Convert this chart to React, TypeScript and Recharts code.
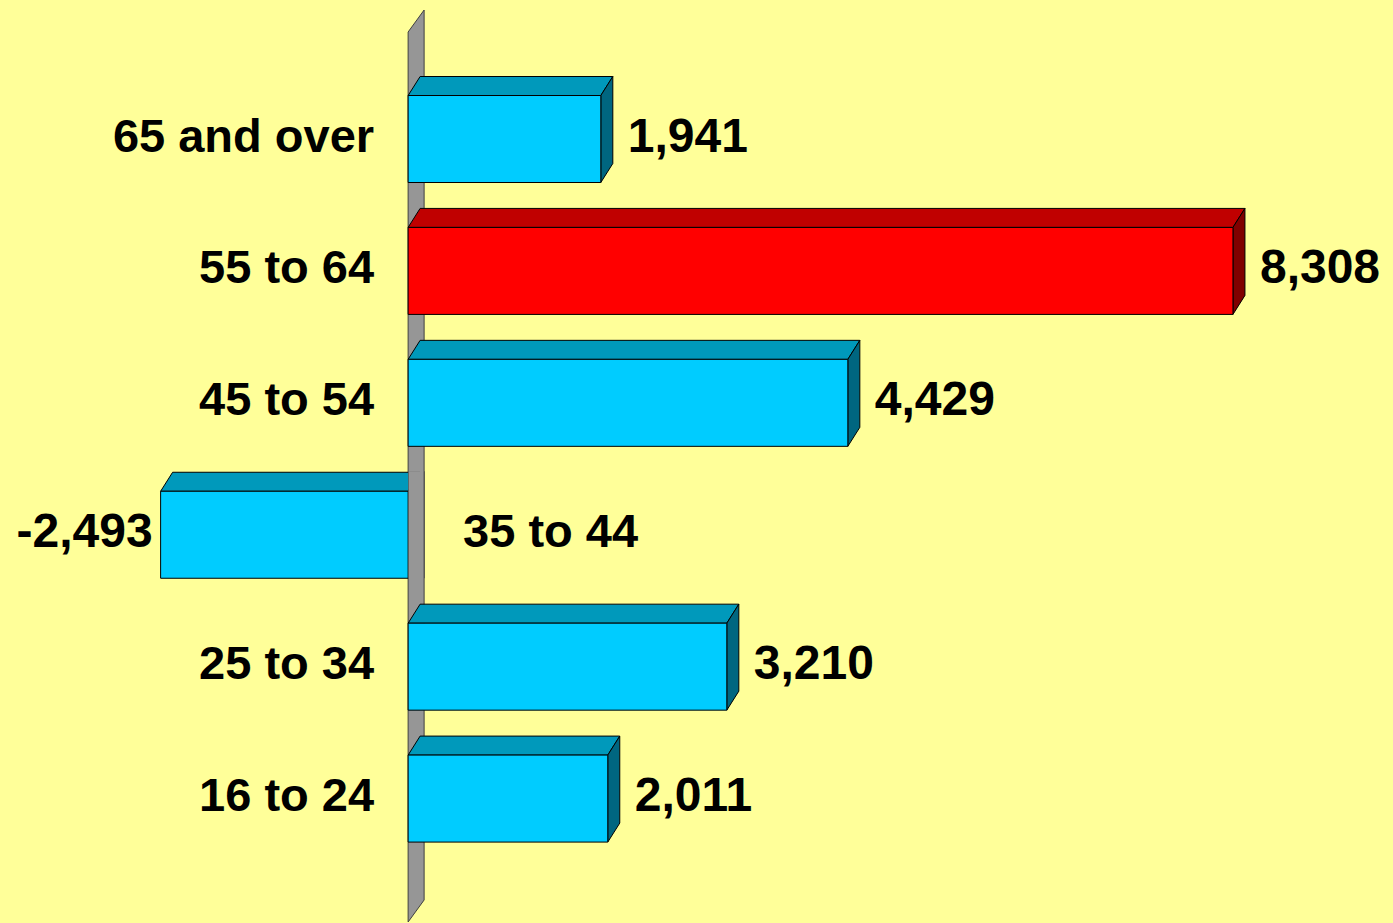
import { Bar, BarChart, LabelList, XAxis, YAxis } from "recharts";

const groups = ["65 and over", "55 to 64", "45 to 54", "35 to 44", "25 to 34", "16 to 24"];
const changes = [1941, 8308, 4429, -2493, 3210, 2011];
const highlightGroup = "55 to 64";

const data = groups.map((group, i) => ({ group, value: changes[i] }));

const BG = "#FFFF99";
const FONT = '"Liberation Sans", Arial, sans-serif';
// 3d depth of the bars and the axis wall
const DX = 12;
const DY = 19;
const WALL_DX = 16;
const WALL_DY = 22;
const WALL_TOP = 10;
const WALL_BOTTOM = 922;

const palette = {
  normal: { front: "#00CCFF", top: "#0099BB", side: "#006680" },
  highlight: { front: "#FF0000", top: "#C00000", side: "#800000" },
};

function wallPoints(zero: number) {
  return [
    [zero, WALL_TOP + WALL_DY],
    [zero + WALL_DX, WALL_TOP],
    [zero + WALL_DX, WALL_BOTTOM - WALL_DY],
    [zero, WALL_BOTTOM],
  ]
    .map((p) => p.join(","))
    .join(" ");
}

function Bar3D(props: any) {
  const { x, y, width, height, index, value, payload } = props;
  const left = Math.min(x, x + width);
  const right = Math.max(x, x + width);
  const negative = value < 0;
  const zero = negative ? right : left;
  const c = payload.group === highlightGroup ? palette.highlight : palette.normal;
  const bottom = y + height;
  const mid = y + height / 2;

  const front = `${left},${y} ${right},${y} ${right},${bottom} ${left},${bottom}`;
  const top = `${left},${y} ${left + DX},${y - DY} ${right + DX},${y - DY} ${right},${y}`;
  const side = `${right},${y} ${right + DX},${y - DY} ${right + DX},${bottom - DY} ${right},${bottom}`;
  const clipId = `wall-clip-${index}`;

  return (
    <g>
      {index === 0 ? (
        <polygon points={wallPoints(zero)} fill="#969696" stroke="#404040" strokeWidth={1} />
      ) : null}
      <polygon points={top} fill={c.top} stroke="#000" strokeWidth={1} strokeLinejoin="round" />
      {negative ? null : (
        <polygon points={side} fill={c.side} stroke="#000" strokeWidth={1} strokeLinejoin="round" />
      )}
      <polygon points={front} fill={c.front} stroke="#000" strokeWidth={1} />
      {negative ? (
        <>
          <defs>
            <clipPath id={clipId}>
              <rect x={zero} y={y - DY - 1} width={WALL_DX + 2} height={height + DY + 1} />
            </clipPath>
          </defs>
          <polygon
            points={wallPoints(zero)}
            fill="#969696"
            stroke="#404040"
            strokeWidth={1}
            clipPath={`url(#${clipId})`}
          />
        </>
      ) : null}
      <text
        x={negative ? zero + 55 : zero - 34}
        y={mid - 4}
        textAnchor={negative ? "start" : "end"}
        dominantBaseline="central"
        fontFamily={FONT}
        fontWeight="bold"
        fontSize={47}
        fill="#000"
      >
        {payload.group}
      </text>
    </g>
  );
}

function ValueLabel(props: any) {
  const { x, y, width, height, value } = props;
  const left = Math.min(x, x + width);
  const right = Math.max(x, x + width);
  const negative = value < 0;
  return (
    <text
      x={negative ? left - 8 : right + DX + 15}
      y={y + height / 2 - 4}
      textAnchor={negative ? "end" : "start"}
      dominantBaseline="central"
      fontFamily={FONT}
      fontWeight="bold"
      fontSize={48}
      fill="#000"
    >
      {Number(value).toLocaleString("en-US")}
    </text>
  );
}

export default function App() {
  return (
    <div
      style={{
        position: "absolute",
        left: 0,
        top: 0,
        width: 1393,
        height: 923,
        background: BG,
      }}
    >
      <BarChart
        width={1393}
        height={923}
        data={data}
        layout="vertical"
        margin={{ top: 73.5, bottom: 58, left: 11, right: 2 }}
      >
        <XAxis type="number" domain={[-4000, 9900]} hide allowDataOverflow />
        <YAxis type="category" dataKey="group" hide width={0} />
        <Bar dataKey="value" barSize={87} isAnimationActive={false} shape={Bar3D}>
          <LabelList dataKey="value" content={ValueLabel} />
        </Bar>
      </BarChart>
    </div>
  );
}
